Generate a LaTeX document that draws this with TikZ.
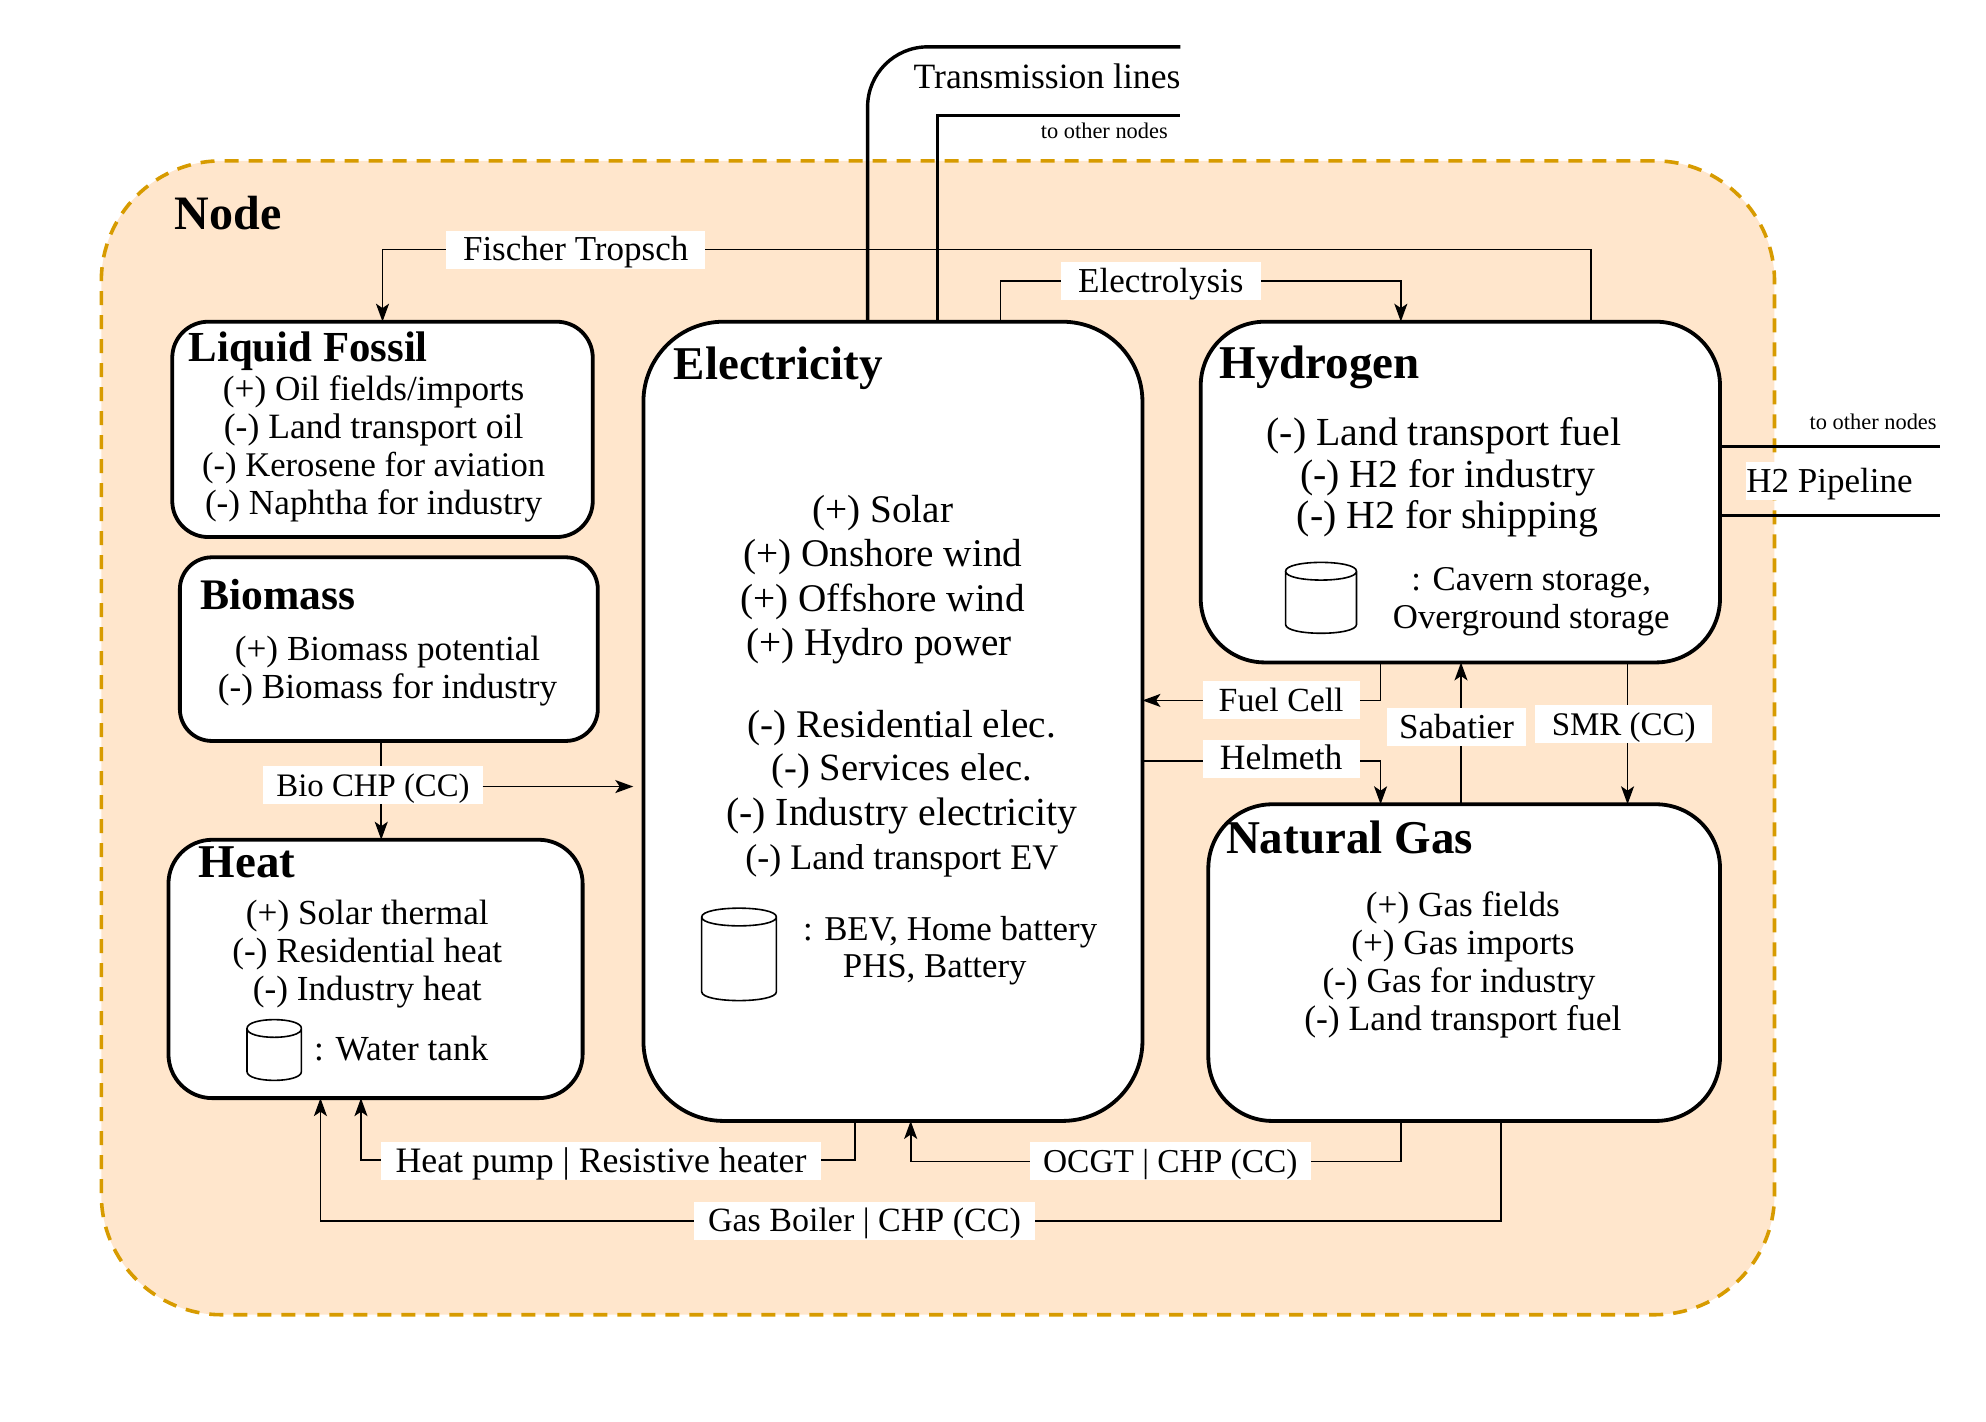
\documentclass[tikz,border=0pt]{standalone}
\usepackage{fontspec}
\setmainfont{Liberation Serif}
\usetikzlibrary{arrows.meta}
\definecolor{nodefill}{HTML}{FFE6CC}
\definecolor{nodeline}{HTML}{D79B00}
\newcommand{\fz}[1]{\fontsize{#1}{#1}\selectfont}
\tikzset{
 x=0.6333pt,y=-0.6333pt,
 box/.style={draw=black,line width=1.9pt,fill=white,inner sep=0pt,outer sep=0pt,rectangle},
 txt/.style={inner sep=0pt,outer sep=0pt,anchor=center,text height=1.18em,text depth=0.1em},
 ltxt/.style={txt,anchor=west},
 rtxt/.style={txt,anchor=east},
 lab/.style={fill=white,inner sep=0pt,outer sep=0pt,text height=1.1em,text depth=0em,font=\fz{17.5},minimum height=30*0.6333pt},
 conn/.style={line width=0.85pt},
 arr/.style={conn,-{Stealth[length=9pt,width=6.5pt,inset=2.2pt]}},
 link/.style={line width=1.7pt},
 title/.style={ltxt,font=\bfseries\fz{23.5}},
}
\newcommand{\cyl}[5]{%
 \draw[line width=0.8pt,fill=white] (#1,#3+#5) -- (#1,#4-#5)
   .. controls (#1,#4+#5*0.33) and (#2,#4+#5*0.33) .. (#2,#4-#5) -- (#2,#3+#5)
   .. controls (#2,#3-#5*0.33) and (#1,#3-#5*0.33) .. (#1,#3+#5)
   .. controls (#1,#3+#5*2.33) and (#2,#3+#5*2.33) .. (#2,#3+#5);}
\newcommand{\boxnode}[6]{\node[box,rounded corners=#6,minimum width={(#3-#2)*0.6333pt},minimum height={(#5-#4)*0.6333pt},anchor=north west] (#1) at (#2,#4) {};}
\begin{document}
\begin{tikzpicture}
\useasboundingbox (0,0) rectangle (1568,1122.7);
\node[draw=nodeline,fill=nodefill,line width=1.8pt,dash pattern=on 7pt off 5pt,rounded corners=60pt,outer sep=0pt,minimum width={1321*0.6333pt},minimum height={911*0.6333pt},anchor=north west,inner sep=0pt] (bg) at (80,127) {};
\node[ltxt,font=\bfseries\fz{24}] (ntitle) at (138,173) {Node};

\boxnode{lf}{136}{468}{254}{424}{18pt}
\boxnode{bm}{142}{472}{440}{585}{16pt}
\boxnode{ht}{133}{460}{663}{867}{22pt}
\boxnode{el}{508}{902}{254}{885}{40pt}
\boxnode{hy}{948}{1358}{254}{523}{32pt}
\boxnode{ng}{954}{1358}{635}{885}{32pt}

% transmission / pipeline
\coordinate (t1) at (932,37);
\coordinate (t2) at (932,91);
\coordinate (p1) at (1532,352.5);
\coordinate (p2) at (1532,407);
\draw[link,rounded corners=30pt] (685,0 |- el.north) -- (685,37) -- (t1);
\draw[link] (740,0 |- el.north) -- (740,91) -- (t2);
\draw[link] (hy.east |- p1) -- (p1);
\draw[link] (hy.east |- p2) -- (p2);

% connectors
\draw[arr] (1256,0 |- hy.north) -- (1256,197) -- (302,197) -- (lf.north);
\draw[arr] (790,0 |- el.north) -- (790,222) -- (1106,222) -- (1106,0 |- hy.north);
\draw[arr] (1090,0 |- hy.south) -- (1090,553) -- (el.east |- 0,553);
\draw[arr] (el.east |- 0,601) -- (1090,601) -- (1090,0 |- ng.north);
\draw[arr] (1153.5,0 |- ng.north) -- (1153.5,0 |- hy.south);
\draw[arr] (1285,0 |- hy.south) -- (1285,0 |- ng.north);
\draw[arr] (301,0 |- bm.south) -- (301,0 |- ht.north);
\draw[arr] (675,0 |- el.south) -- (675,916) -- (285,916) -- (285,0 |- ht.south);
\draw[arr] (1106,0 |- ng.south) -- (1106,917) -- (719,917) -- (719,0 |- el.south);
\draw[arr] (1185,0 |- ng.south) -- (1185,964) -- (253,964) -- (253,0 |- ht.south);

% labels
\node[lab,minimum width=205*0.6333pt] (l1) at (454.5,197) {Fischer Tropsch};
\node[lab,minimum width=158*0.6333pt] (l2) at (916.5,222) {Electrolysis};
\node[lab,minimum width=124*0.6333pt,font=\fz{16.9}] (l3) at (1011.5,553) {Fuel Cell};
\node[lab,minimum width=124*0.6333pt,font=\fz{17.8}] (l4) at (1011.5,599) {Helmeth};
\node[lab,minimum width=110*0.6333pt] (l5) at (1150,574) {Sabatier};
\node[lab,minimum width=140*0.6333pt,font=\fz{16.5}] (l6) at (1282,572) {SMR (CC)};
\node[lab,minimum width=173*0.6333pt,font=\fz{16.4}] (l7) at (294.5,620) {Bio CHP (CC)};
\node[lab,minimum width=347*0.6333pt,font=\fz{17.9}] (l8) at (474.5,917) {Heat pump | Resistive heater};
\node[lab,minimum width=222*0.6333pt,font=\fz{16.7}] (l9) at (924,917) {OCGT | CHP (CC)};
\node[lab,minimum width=269*0.6333pt,font=\fz{17}] (l10) at (682.5,964) {Gas Boiler | CHP (CC)};
\node[lab,minimum width=131*0.6333pt] (l11) at (1444.5,380) {H2 Pipeline};
\coordinate (bioend) at (500,621);
\draw[arr] (l7.east |- bioend) -- (bioend);

% free text
\node[rtxt,font=\fz{17.8}] (tl) at (932,61) {Transmission lines};
\node[rtxt,font=\fz{11.2}] (to1) at (922,100.5) {to other nodes};
\node[rtxt,font=\fz{11.2}] (to2) at (1529,330.5) {to other nodes};

\begin{scope}[every node/.style={txt,font=\fz{17.6}}]
\node (lf1) at (295,308) {(+) Oil fields/imports};
\node[font=\fz{17.8}] (lf2) at (295,338) {(-) Land transport oil};
\node[font=\fz{17.3}] (lf3) at (295,368) {(-) Kerosene for aviation};
\node (lf4) at (295,398) {(-) Naphtha for industry};
\node (bm1) at (306,513) {(+) Biomass potential};
\node (bm2) at (306,543) {(-) Biomass for industry};
\node (ht1) at (290,721) {(+) Solar thermal};
\node (ht2) at (290,751) {(-) Residential heat};
\node (ht3) at (290,781) {(-) Industry heat};
\node[ltxt] (ht4) at (248,829) {: Water tank};
\node (ng1) at (1155,715) {(+) Gas fields};
\node (ng2) at (1155,745) {(+) Gas imports};
\node (ng3) at (1152,775) {(-) Gas for industry};
\node[font=\fz{17.8}] (ng4) at (1155,805) {(-) Land transport fuel};
\end{scope}
\node[title,font=\bfseries\fz{21.4}] (lft) at (149,277) {Liquid Fossil};
\node[title,font=\bfseries\fz{21.8}] (bmt) at (158,473) {Biomass};
\node[title] (htt) at (157,684) {Heat};
\node[title] (elt) at (532,291) {Electricity};
\node[title] (hyt) at (963,290) {Hydrogen};
\node[title] (ngt) at (968,665) {Natural Gas};
\begin{scope}[every node/.style={txt,font=\fz{19.6}}]
\node (el1) at (697,404) {(+) Solar};
\node (el2) at (697,439) {(+) Onshore wind};
\node (el3) at (697,474) {(+) Offshore wind};
\node (el4) at (694,509) {(+) Hydro power};
\node (el5) at (712,574) {(-) Residential elec.};
\node[font=\fz{19.3}] (el6) at (712,608) {(-) Services elec.};
\node[font=\fz{19.9}] (el7) at (712,643) {(-) Industry electricity};
\node[font=\fz{18}] (el8) at (712,678) {(-) Land transport EV};
\node[font=\fz{19.9}] (hy1) at (1140,343) {(-) Land transport fuel};
\node[font=\fz{19.9}] (hy2) at (1143,376) {(-) H2 for industry};
\node[font=\fz{19.9}] (hy3) at (1143,409) {(-) H2 for shipping};
\end{scope}
\begin{scope}[every node/.style={txt,font=\fz{17.4}}]
\node[ltxt] (el9) at (634,734) {: BEV, Home battery};
\node (el10) at (738,763) {PHS, Battery};
\node (hy4) at (1209,458) {: Cavern storage,};
\node (hy5) at (1209,488) {Overground storage};
\end{scope}
\cyl{554}{613}{717}{790}{7}
\cyl{1015}{1071}{444}{500}{7}
\cyl{195}{238}{805}{853}{7}
\end{tikzpicture}
\end{document}
